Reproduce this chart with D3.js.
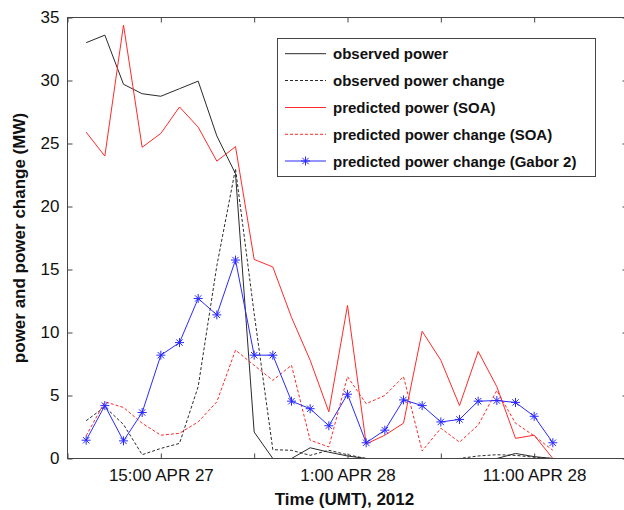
<!DOCTYPE html>
<html><head><meta charset="utf-8">
<script src="https://cdn.jsdelivr.net/npm/d3@7"></script>
<style>html,body{margin:0;padding:0;background:#fff;overflow:hidden}svg{display:block}</style>
</head><body><svg id="chart" width="624" height="510"></svg>
<script>
// hourly samples, 11:00 APR 27 .. 12:00 APR 28 (UTC), 2012
const times = d3.utcHour.range(new Date(Date.UTC(2012,3,27,11)), new Date(Date.UTC(2012,3,28,13)));
const observedPower  = [33.0,33.6,29.7,28.95,28.75,29.35,29.95,25.6,22.6,2.1,0,0,0.85,0.5,0.2,0,0,0,0,0,0,0,0,0.4,0.15,0];
const observedChange = [3.0,4.1,2.7,0.3,0.8,1.2,5.7,15.3,23.0,11.5,0.7,0.65,0.25,0.65,0.3,0,0,0,0,0,0,0.2,0.3,0.25,0.1,0];
const predictedPowerSOA  = [25.9,24.0,34.4,24.7,25.8,27.9,26.3,23.6,24.75,15.8,15.2,11.2,7.8,3.7,12.15,1.15,1.85,2.8,10.1,7.8,4.2,8.5,5.7,1.6,1.85,0];
const predictedChangeSOA = [1.8,4.5,4.05,2.8,1.85,2.0,2.9,4.5,8.6,7.4,6.2,7.4,1.45,0.92,6.5,4.35,5.0,6.5,0.6,2.4,1.3,2.65,5.4,2.8,1.8,0.65];
const predictedChangeGabor = [1.45,4.2,1.4,3.65,8.2,9.2,12.7,11.4,15.75,8.2,8.2,4.55,3.95,2.6,5.1,1.25,2.25,4.65,4.2,2.9,3.1,4.55,4.6,4.45,3.35,1.25];
const yTicks = [0,5,10,15,20,25,30,35];
const xTickTimes = d3.utcHour.range(new Date(Date.UTC(2012,3,27,10)), new Date(Date.UTC(2012,3,28,17)), 5);
const xTickLabels = {"15":"15:00 APR 27","25":"1:00 APR 28","35":"11:00 APR 28"};
const legendLabels = ["observed power","observed power change","predicted power (SOA)","predicted power change (SOA)","predicted power change (Gabor 2)"];

const t0 = new Date(Date.UTC(2012,3,27,10)), t1 = new Date(Date.UTC(2012,3,28,16));
const L = 67.5, R = 627.5, T = 17.5, B = 458.5;
const x = d3.scaleUtc().domain([t0,t1]).range([L,R]);
const y = d3.scaleLinear().domain([0,35]).range([B,T]);
const svg = d3.select("#chart");
const font = "'Liberation Sans', Arial, Helvetica, sans-serif";
const axisColor = "#444";

const BLACK = "#2a2a2a", RED = "#ff2a2a", BLUE = "#2a2aff";
const series = [
  {v: observedPower, color: BLACK, dash: null},
  {v: observedChange, color: BLACK, dash: "3,2"},
  {v: predictedPowerSOA, color: RED, dash: null},
  {v: predictedChangeSOA, color: RED, dash: "3,2"},
  {v: predictedChangeGabor, color: BLUE, dash: null, marker: true}
];
const line = d3.line().x((d,i)=>x(times[i])).y(d=>y(d));
const g = svg.append("g");
series.forEach(s=>{
  g.append("path").attr("d", line(s.v)).attr("fill","none").attr("stroke", s.color)
    .attr("stroke-width",1).attr("stroke-dasharray", s.dash);
});
function star(cx, cy, r){
  const a = r*0.7071;
  return `M${cx-r},${cy}H${cx+r}M${cx},${cy-r}V${cy+r}M${cx-a},${cy-a}L${cx+a},${cy+a}M${cx-a},${cy+a}L${cx+a},${cy-a}`;
}
g.selectAll("path.star").data(predictedChangeGabor).join("path").attr("class","star")
  .attr("d",(d,i)=>star(x(times[i]), y(d), 4.5)).attr("stroke",BLUE).attr("stroke-width",1).attr("fill","none");

// axes
const fmt = d => { const h = Math.round((d - t0)/3600000) + 10; return xTickLabels[String(h)] || ""; };
svg.append("g").attr("transform",`translate(0,${B})`)
  .call(d3.axisBottom(x).tickValues(xTickTimes).tickSize(-5).tickPadding(10).tickFormat(fmt));
svg.append("g").attr("transform",`translate(0,${T})`)
  .call(d3.axisTop(x).tickValues(xTickTimes).tickSize(-5).tickFormat(""));
svg.append("g").attr("transform",`translate(${L},0)`)
  .call(d3.axisLeft(y).tickValues(yTicks).tickSize(-5).tickPadding(8));
svg.append("g").attr("transform",`translate(${R},0)`)
  .call(d3.axisRight(y).tickValues(yTicks).tickSize(-5).tickFormat(""));
svg.selectAll(".domain").remove();
svg.selectAll(".tick line").attr("stroke",axisColor);
svg.selectAll(".tick text").attr("font-family",font).attr("font-size",17).attr("fill","#111");
svg.append("rect").attr("x",L).attr("y",T).attr("width",R-L).attr("height",B-T)
  .attr("fill","none").attr("stroke",axisColor).attr("stroke-width",1);

// axis titles
svg.append("text").attr("x",(L+R)/2-3).attr("y",505).attr("text-anchor","middle")
  .attr("font-family",font).attr("font-size",17).attr("font-weight","bold").attr("fill","#111")
  .text("Time (UMT), 2012");
svg.append("text").attr("transform",`translate(25,${(T+B)/2}) rotate(-90)`).attr("text-anchor","middle")
  .attr("font-family",font).attr("font-size",17).attr("font-weight","bold").attr("fill","#111")
  .text("power and power change (MW)");

// legend
const lg = svg.append("g");
lg.append("rect").attr("x",277.5).attr("y",38.5).attr("width",318).attr("height",138)
  .attr("fill","#fff").attr("stroke",axisColor).attr("stroke-width",1);
const rowY = [53.7,80.5,107.5,134.3,161];
series.forEach((s,k)=>{
  lg.append("line").attr("x1",285).attr("x2",326).attr("y1",rowY[k]).attr("y2",rowY[k])
    .attr("stroke",s.color).attr("stroke-width",1).attr("stroke-dasharray",s.dash);
  if (s.marker) lg.append("path").attr("d",star(305.5,rowY[k],4.5)).attr("stroke",s.color).attr("fill","none");
  lg.append("text").attr("x",333).attr("y",rowY[k]+5.5).attr("font-family",font).attr("font-size",15)
    .attr("font-weight","bold").attr("fill","#111").text(legendLabels[k]);
});
</script></body></html>
